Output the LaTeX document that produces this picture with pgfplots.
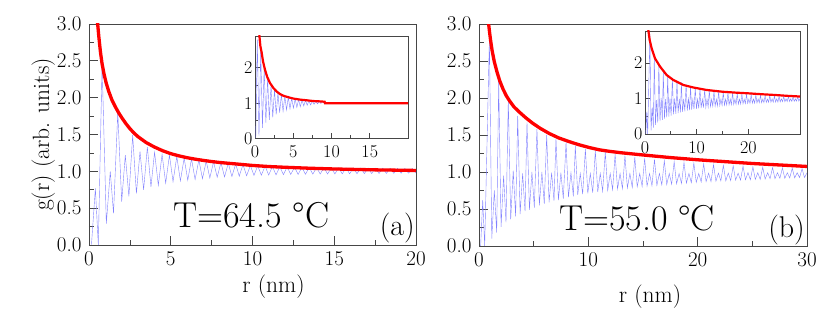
\documentclass[border=0pt]{standalone}
\usepackage{pgfplots}
\pgfplotsset{compat=1.18}
\usepackage{pgfplotstable}
\definecolor{gblue}{RGB}{130,130,255}
\definecolor{gred}{RGB}{255,0,0}
\definecolor{frame}{RGB}{70,70,70}

% ---------- panel (a), main ----------
\pgfplotstableread{
r g
0.15 0.00
0.39 0.77
0.57 0.00
0.80 2.45
1.06 0.29
1.30 1.00
1.50 0.43
1.76 1.80
2.00 0.59
2.22 1.22
2.44 0.66
2.67 1.49
2.90 0.70
3.12 1.27
3.34 0.75
3.57 1.33
3.79 0.79
4.01 1.26
4.24 0.81
4.47 1.23
4.69 0.84
4.92 1.22
5.14 0.86
5.37 1.20
5.59 0.87
5.82 1.18
6.04 0.88
6.27 1.17
6.49 0.89
6.72 1.155
6.94 0.90
7.17 1.14
7.39 0.91
7.62 1.13
7.84 0.92
8.07 1.12
8.29 0.925
8.52 1.11
8.74 0.93
8.97 1.10
9.19 0.935
9.42 1.09
9.64 0.94
9.87 1.08
10.09 0.945
10.32 1.075
10.54 0.948
10.77 1.07
10.99 0.95
11.22 1.065
11.44 0.952
11.67 1.062
11.89 0.955
12.12 1.06
12.34 0.957
12.57 1.058
12.79 0.958
13.02 1.056
13.24 0.96
13.47 1.054
13.69 0.962
13.92 1.052
14.14 0.963
14.37 1.05
14.59 0.964
14.82 1.049
15.04 0.965
15.27 1.048
15.49 0.966
15.72 1.047
15.94 0.967
16.17 1.046
16.39 0.968
16.62 1.045
16.84 0.969
17.07 1.044
17.29 0.97
17.52 1.043
17.74 0.971
17.97 1.042
18.19 0.972
18.42 1.041
18.64 0.973
18.87 1.04
19.09 0.974
19.32 1.039
19.54 0.975
19.77 1.038
19.99 0.976
}\blueA
\pgfplotstableread{
r g
0.50 3.10
0.53 3.00
0.60 2.83
0.70 2.62
0.80 2.46
0.92 2.32
1.05 2.20
1.20 2.09
1.40 1.97
1.60 1.88
1.80 1.80
2.00 1.73
2.25 1.65
2.50 1.58
2.75 1.52
3.00 1.47
3.50 1.39
4.00 1.33
4.50 1.28
5.00 1.24
5.50 1.21
6.00 1.185
6.50 1.165
7.00 1.148
7.50 1.133
8.00 1.12
9.00 1.10
10.0 1.08
11.0 1.065
12.0 1.055
13.5 1.042
15.0 1.032
17.5 1.02
20.0 1.012
}\redA
% ---------- panel (a), inset ----------
\pgfplotstableread{
r g
0.10 0.02
0.30 2.80
0.52 0.08
0.75 2.50
0.97 0.30
1.20 2.00
1.42 0.45
1.65 1.70
1.87 0.53
2.10 1.52
2.32 0.60
2.55 1.38
2.77 0.68
3.00 1.30
3.22 0.73
3.45 1.24
3.67 0.77
3.90 1.20
4.12 0.81
4.35 1.17
4.57 0.84
4.80 1.14
5.02 0.86
5.25 1.12
5.47 0.88
5.70 1.10
5.92 0.90
6.15 1.09
6.37 0.92
6.60 1.08
6.82 0.94
7.05 1.07
7.27 0.95
7.50 1.06
7.72 0.97
7.95 1.055
8.17 0.98
8.40 1.05
8.62 0.99
8.85 1.04
9.00 1.00
}\blueAi
\pgfplotstableread{
r g
0.52 3.10
0.57 2.92
0.70 2.62
0.87 2.43
1.05 2.18
1.30 1.95
1.60 1.74
1.96 1.57
2.40 1.43
2.83 1.33
3.25 1.26
3.70 1.21
4.30 1.17
5.00 1.13
5.90 1.10
6.80 1.08
7.60 1.06
8.50 1.05
9.10 1.04
9.15 1.00
20.0 1.00
}\redAi
% ---------- panel (b), main and inset ----------
\pgfplotstableread{
r g
0.15 0.00
0.34 0.62
0.52 0.00
0.95 2.80
1.17 0.10
1.40 0.75
1.62 0.18
1.80 2.23
2.02 0.26
2.25 0.95
2.47 0.32
2.68 1.98
2.90 0.36
3.13 1.02
3.35 0.40
3.54 1.76
3.76 0.43
3.99 0.98
4.21 0.47
4.39 1.67
4.61 0.49
4.84 1.00
5.06 0.52
5.30 1.58
5.52 0.55
5.75 1.00
5.97 0.57
6.19 1.50
6.41 0.59
6.64 0.99
6.86 0.61
7.04 1.45
7.26 0.62
7.49 0.99
7.71 0.64
7.96 1.40
8.18 0.66
8.41 0.99
8.63 0.67
8.81 1.35
9.03 0.69
9.26 0.98
9.48 0.70
9.73 1.31
9.95 0.71
10.18 0.98
10.40 0.72
10.64 1.29
10.86 0.73
11.09 0.98
11.31 0.74
11.55 1.27
11.77 0.75
12.00 0.98
12.22 0.76
12.45 1.24
12.67 0.77
12.90 0.98
13.12 0.775
13.35 1.22
13.57 0.785
13.80 0.98
14.02 0.79
14.25 1.20
14.47 0.80
14.70 0.98
14.92 0.805
15.15 1.185
15.37 0.81
15.60 0.98
15.82 0.815
16.05 1.17
16.27 0.82
16.50 0.98
16.72 0.825
16.95 1.155
17.17 0.83
17.40 0.98
17.62 0.835
17.85 1.14
18.07 0.84
18.30 0.98
18.52 0.845
18.75 1.13
18.97 0.85
19.20 0.98
19.42 0.855
19.65 1.12
19.87 0.86
20.10 0.98
20.32 0.865
20.55 1.11
20.77 0.87
21.00 0.985
21.22 0.87
21.45 1.10
21.67 0.875
21.90 0.985
22.12 0.88
22.35 1.09
22.57 0.88
22.80 0.985
23.02 0.885
23.25 1.085
23.47 0.89
23.70 0.985
23.92 0.89
24.15 1.08
24.37 0.895
24.60 0.99
24.82 0.895
25.05 1.07
25.27 0.90
25.50 0.99
25.72 0.90
25.95 1.065
26.17 0.905
26.40 0.99
26.62 0.91
26.85 1.06
27.07 0.91
27.30 0.99
27.52 0.915
27.75 1.055
27.97 0.915
28.20 0.99
28.42 0.92
28.65 1.05
28.87 0.92
29.10 0.99
29.32 0.925
29.55 1.045
29.77 0.925
30.00 0.99
}\blueB
\pgfplotstableread{
r g
0.86 3.05
0.88 3.00
0.95 2.91
1.05 2.79
1.20 2.64
1.40 2.49
1.65 2.35
1.90 2.23
2.20 2.12
2.50 2.03
2.80 1.96
3.20 1.88
3.69 1.81
4.30 1.73
4.90 1.66
5.60 1.59
6.43 1.52
7.30 1.46
8.26 1.41
9.10 1.37
10.1 1.33
11.0 1.30
11.9 1.28
13.0 1.26
14.0 1.245
15.0 1.23
17.5 1.195
20.0 1.165
22.5 1.14
25.0 1.115
27.5 1.095
30.0 1.075
}\redB
\pgfplotstableread{
r g
0.58 3.10
0.64 2.93
0.90 2.65
1.29 2.41
1.93 2.13
2.90 1.90
4.19 1.66
5.48 1.52
7.41 1.38
9.35 1.31
11.9 1.24
15.0 1.19
17.5 1.165
20.0 1.145
22.5 1.12
25.0 1.10
27.5 1.075
30.0 1.055
}\redBi

\pgfplotsset{
  /pgf/number format/assume math mode=true,
  common/.style={
    scale only axis, anchor=south west, clip=true,
    axis line style={frame, line width=0.8pt},
    tick style={frame, line width=0.7pt},
    tick align=inside, xtick pos=bottom, ytick pos=left,
  },
  mainax/.style={
    common,
    major tick length=9pt, minor tick length=5pt,
    ymin=0, ymax=3, ytick={0,0.5,...,3.0}, minor y tick num=1,
    yticklabel style={/pgf/number format/.cd, fixed, fixed zerofill, precision=1, /tikz/.cd, xshift=-4pt},
    xticklabel style={yshift=-3pt},
    tick label style={font=\fontsize{21}{24}\selectfont},
    label style={font=\fontsize{23.5}{26}\selectfont},
  },
  insetax/.style={
    common,
    axis background/.style={fill=white},
    major tick length=5pt, minor tick length=3pt,
    ymin=0, ymax=2.9, ytick={0,1,2}, minor y tick num=1,
    tick label style={font=\fontsize{18}{20}\selectfont},
    yticklabel style={xshift=1pt},
    xticklabel style={yshift=-4pt},
  },
  blueline/.style={gblue, line width=0.4pt},
  redline/.style={gred, line width=3.3pt},
}

\begin{document}
\begin{tikzpicture}
\useasboundingbox (0,0) rectangle (830pt,324pt);

% ===== panel (a) =====
\begin{axis}[mainax, at={(89pt,79pt)}, width=327pt, height=221pt,
  xmin=0, xmax=20, xtick={0,5,10,15,20}, minor x tick num=1,
  xlabel={r (nm)}, ylabel={g(r) (arb. units)},
  xlabel style={yshift=-2pt, xshift=21pt}, ylabel style={yshift=-5pt}]
\addplot[blueline] table[x=r,y=g] {\blueA};
\addplot[redline] table[x=r,y=g] {\redA};
\node[anchor=base west, inner sep=0pt, font=\fontsize{36}{40}\selectfont]
  at (rel axis cs:0.257,0.077) {T=64.5 °C};
\node[anchor=base east, inner sep=0pt, font=\fontsize{30}{33}\selectfont]
  at (rel axis cs:0.997,0.045) {(a)};
\end{axis}

\begin{axis}[insetax, at={(255pt,185.5pt)}, width=153pt, height=102.5pt,
  xmin=0, xmax=20, xtick={0,5,10,15}, minor x tick num=1]
\addplot[blueline] table[x=r,y=g] {\blueAi};
\addplot[gred, line width=2.2pt] table[x=r,y=g] {\redAi};
\end{axis}

% ===== panel (b) =====
\begin{axis}[mainax, at={(479pt,78pt)}, width=328pt, height=222pt,
  xmin=0, xmax=30, xtick={0,10,20,30}, minor x tick num=1,
  xlabel={r (nm)}, xlabel style={yshift=-11pt, xshift=7pt}]
\addplot[blueline] table[x=r,y=g] {\blueB};
\addplot[redline] table[x=r,y=g] {\redB};
\node[anchor=base west, inner sep=0pt, font=\fontsize{36}{40}\selectfont]
  at (rel axis cs:0.244,0.072) {T=55.0 °C};
\node[anchor=base east, inner sep=0pt, font=\fontsize{30}{33}\selectfont]
  at (rel axis cs:0.994,0.039) {(b)};
\end{axis}

\begin{axis}[insetax, at={(645pt,190pt)}, width=155pt, height=103pt,
  xmin=0, xmax=30, xtick={0,10,20}, minor x tick num=1]
\addplot[blueline] table[x=r,y=g] {\blueB};
\addplot[gred, line width=2.2pt] table[x=r,y=g] {\redBi};
\end{axis}
\end{tikzpicture}
\end{document}
